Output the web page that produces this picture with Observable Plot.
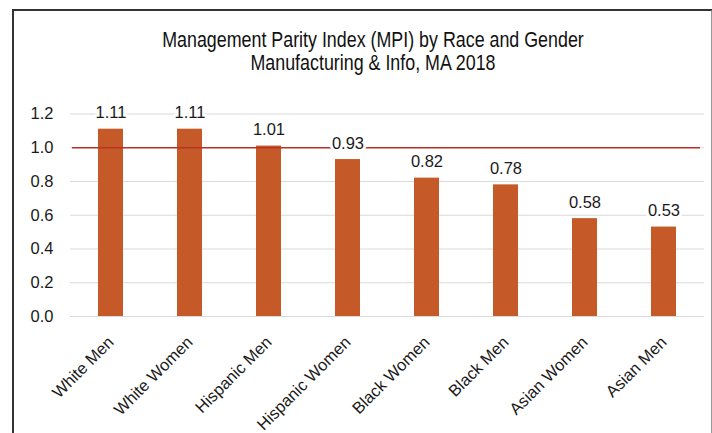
<!DOCTYPE html>
<html>
<head>
<meta charset="utf-8">
<script src="https://cdn.jsdelivr.net/npm/d3@7"></script>
<script src="https://cdn.jsdelivr.net/npm/@observablehq/plot@0.6"></script>
<style>
  html, body { margin: 0; padding: 0; background: #fff; width: 712px; height: 433px; overflow: hidden; }
  #frame { position: absolute; left: 12px; top: 9px; width: 697px; height: 500px;
           border-top: 2px solid #333; border-left: 2px solid #333; border-right: 2px solid #999; box-sizing: content-box; }
  #title { position: absolute; left: 0; width: 746px; top: 29px; text-align: center;
           font-family: "Liberation Sans", Arial, sans-serif; font-size: 21.5px; line-height: 23px; color: #111;
           transform: scaleX(0.83); transform-origin: 373px 0; }
  #chart { position: absolute; left: 0; top: 95px; }
</style>
</head>
<body>
<div id="frame"></div>
<div id="title">Management Parity Index (MPI) by Race and Gender<br>Manufacturing &amp; Info, MA 2018</div>
<div id="chart"></div>
<script>
const categories = ["White Men", "White Women", "Hispanic Men", "Hispanic Women", "Black Women", "Black Men", "Asian Women", "Asian Men"];
const values = [1.11, 1.11, 1.01, 0.93, 0.82, 0.78, 0.58, 0.53];
const yTicks = [0, 0.2, 0.4, 0.6, 0.8, 1.0, 1.2];
const parity = [1.0];

const data = categories.map((c, i) => ({cat: c, v: values[i]}));

const plot = Plot.plot({
  width: 712,
  height: 338,
  marginLeft: 70,
  marginRight: 8,
  marginTop: 18.5,
  marginBottom: 117,
  style: {fontFamily: "Liberation Sans, Arial, sans-serif", background: "transparent"},
  x: {domain: categories, paddingInner: 0.685, paddingOuter: 0.3425, label: null},
  y: {domain: [0, 1.2], label: null},
  marks: [
    Plot.gridY(yTicks, {stroke: "#d9d9d9", strokeOpacity: 1, strokeWidth: 1}),
    Plot.barY(data, {x: "cat", y: "v", fill: "#C55A28"}),
    Plot.ruleY(parity, {stroke: "#B8322A", strokeWidth: 1.3, insetLeft: 2, insetRight: 4}),
    Plot.text(data, {x: "cat", y: "v", text: d => d.v.toFixed(2), dy: -11, lineAnchor: "bottom", fontSize: 16.5, fill: "#1a1a1a", stroke: "white", strokeWidth: 6}),
    Plot.axisY(yTicks, {tickSize: 0, tickPadding: 17, fontSize: 16.5, tickFormat: d => d.toFixed(1), label: null, fill: "#1a1a1a"}),
    Plot.axisX({tickSize: 0, tickRotate: -45, tickPadding: 23, dx: 0, fontSize: 16.5, label: null, fill: "#1a1a1a"})
  ]
});
document.getElementById("chart").appendChild(plot);
</script>
</body>
</html>
